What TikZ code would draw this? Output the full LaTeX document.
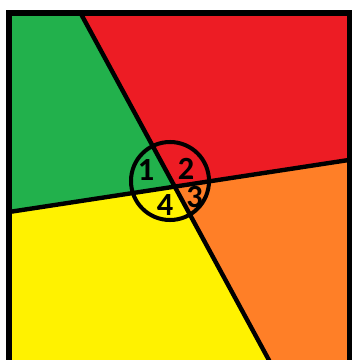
\documentclass[tikz,border=0pt]{standalone}
\usepackage{fontspec}
\setmainfont{Carlito}
\usepackage{tikz}
\usetikzlibrary{positioning}

\definecolor{paintgreen}{RGB}{34,177,76}
\definecolor{paintred}{RGB}{237,28,36}
\definecolor{paintorange}{RGB}{255,127,39}
\definecolor{paintyellow}{RGB}{255,242,0}

\begin{document}
\begin{tikzpicture}[
    x=0.025cm, y=-0.025cm,
    divider/.style={draw=black, line width=0.11cm},
    frame/.style={draw=black, line width=0.15cm},
    ring/.style={circle, draw=black, line width=0.1cm, minimum size=1.95cm, inner sep=0pt},
    num/.style={font=\fontsize{23}{23}\selectfont\bfseries, text=black, inner sep=0pt}
]
\useasboundingbox (0,0) rectangle (351,360);

% corners of the square and ends of the two lines
\coordinate (tl) at (9,13);
\coordinate (tr) at (350,13);
\coordinate (br) at (350,363);
\coordinate (bl) at (9,363);
\coordinate (top) at (80.5,13);
\coordinate (bottom) at (270.5,363);
\coordinate (left) at (9,212);
\coordinate (right) at (350,159.8);
\coordinate (cross) at (intersection of top--bottom and left--right);

% the four coloured parts
\fill[paintgreen] (tl) -- (top) -- (cross) -- (left) -- cycle;
\fill[paintred] (top) -- (tr) -- (right) -- (cross) -- cycle;
\fill[paintorange] (cross) -- (right) -- (br) -- (bottom) -- cycle;
\fill[paintyellow] (left) -- (cross) -- (bottom) -- (bl) -- cycle;

\draw[divider] (top) -- (bottom);
\draw[divider] (left) -- (right);
\draw[frame] (tl) rectangle (br);

\node[ring] (center) at (170,181) {};

\node[num] (one) at (146,170) {1};
\node[num] (two) at (186,169) {2};
\node[num] (three) at (194.5,197) {3};
\node[num] (four) at (165,205) {4};

\end{tikzpicture}
\end{document}
